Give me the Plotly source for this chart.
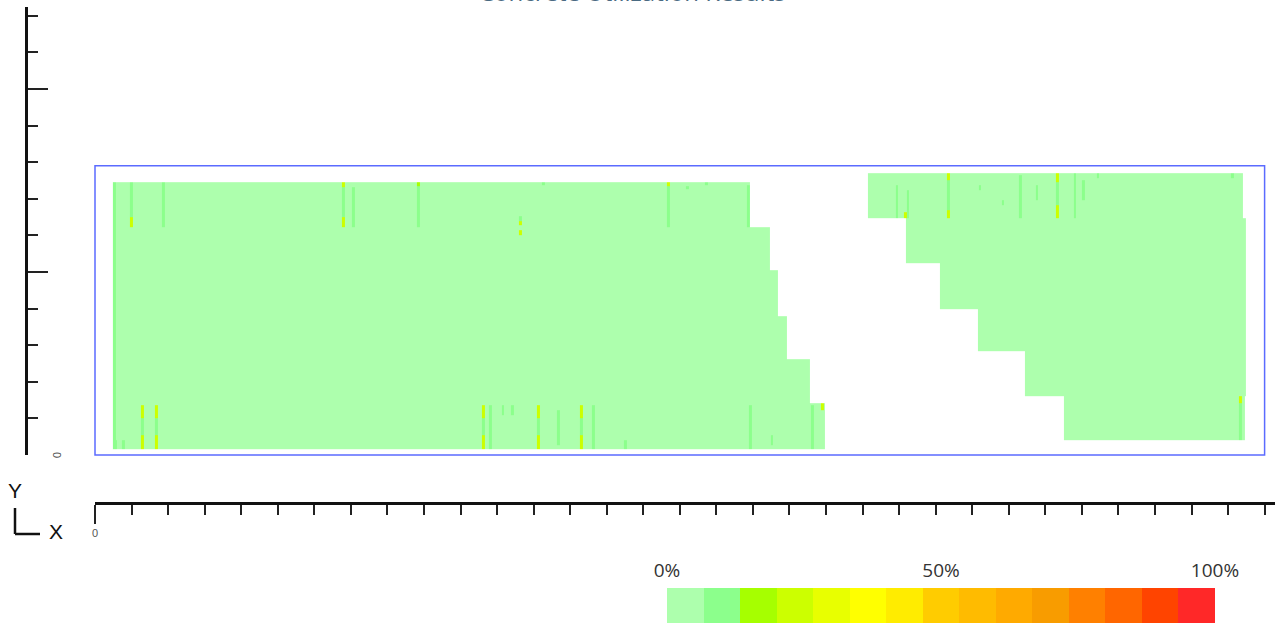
import numpy as np
import plotly.graph_objects as go

W, H = 1280, 625

# ---------------- data ----------------
# utilisation legend: 15 colour bands from 0 % to 100 %
LEVEL_COLORS = ['#adffad', '#8cff8c', '#a6ff00', '#ccff00', '#e8ff00',
                '#ffff00', '#ffec00', '#ffcc00', '#ffbb00', '#ffaa00',
                '#f89c00', '#ff8000', '#ff6600', '#ff4400', '#ff2828']
LEGEND_TICKS = [0, 50, 100]
LEGEND_LABELS = ['0%', '50%', '100%']

# left panel: row boundaries (bottom -> top) and x extent of every row
LEFT_ROW_Y = [0.16, 1.42, 2.62, 3.80, 5.05, 6.23, 7.46]
LEFT_X0 = [0.49, 0.49, 0.49, 0.49, 0.49, 0.49]
LEFT_X1 = [19.97, 19.56, 18.93, 18.69, 18.47, 17.92]

# right panel
RIGHT_ROW_Y = [0.41, 1.61, 2.84, 3.99, 5.25, 6.48, 7.70]
RIGHT_X0 = [26.51, 25.44, 24.16, 23.12, 22.19, 21.15]
RIGHT_X1 = [31.46, 31.49, 31.49, 31.49, 31.49, 31.41]

BASE_UTIL = 3.0  # % utilisation of the bulk of the panels

# local utilisation peaks: strip centre x, y from, y to, utilisation (%)
HOT_X = [0.53, 0.985, 0.985, 1.86, 6.79, 6.79, 6.79, 7.06, 8.86, 8.86,
         11.63, 11.63, 11.63, 12.26, 15.68, 15.68, 16.20, 16.74, 17.88,
         0.55, 0.77, 1.29, 1.29, 1.29, 1.67, 1.67, 1.67, 10.62, 10.62, 10.62,
         10.81, 11.16, 11.41, 12.12, 12.12, 12.12, 12.67, 13.32, 13.32, 13.32,
         13.63, 14.50, 17.92, 18.52, 19.64, 19.90,
         21.94, 22.16, 22.24, 23.34, 23.34, 23.34, 24.21, 24.84, 25.31, 25.77,
         26.32, 26.32, 26.32, 26.81, 27.03, 27.44, 31.11,
         31.33, 31.33]
HOT_Y0 = [0.16, 6.23, 6.23, 6.23, 6.23, 7.32, 6.23, 6.23, 6.23, 7.35,
          6.36, 6.28, 6.01, 7.38, 6.23, 7.35, 7.27, 7.38, 6.23,
          0.16, 0.16, 0.16, 1.01, 0.16, 0.16, 1.01, 0.16, 0.16, 1.01, 0.16,
          0.16, 1.09, 1.09, 0.16, 1.01, 0.16, 0.27, 0.16, 1.01, 0.16,
          0.16, 0.16, 0.16, 0.27, 0.16, 1.23,
          6.48, 6.48, 6.48, 6.48, 7.51, 6.48, 7.24, 6.83, 6.48, 6.97,
          6.48, 7.46, 6.48, 6.48, 6.97, 7.57, 7.57,
          0.41, 1.42]
HOT_Y1 = [7.46, 7.46, 6.50, 7.46, 7.46, 7.46, 6.50, 7.32, 7.35, 7.46,
          6.53, 6.39, 6.15, 7.46, 7.35, 7.46, 7.35, 7.46, 7.38,
          0.41, 0.41, 1.37, 1.37, 0.55, 1.37, 1.37, 0.55, 1.37, 1.37, 0.55,
          1.37, 1.37, 1.37, 1.37, 1.37, 0.55, 1.23, 1.37, 1.37, 0.55,
          1.37, 0.41, 1.37, 0.55, 1.37, 1.42,
          7.38, 6.64, 7.24, 7.70, 7.70, 6.69, 7.38, 6.97, 7.65, 7.38,
          7.70, 7.70, 6.83, 7.70, 7.51, 7.70, 7.70,
          1.42, 1.61]
HOT_V = [10, 10, 24, 10, 10, 24, 24, 10, 10, 17,
         10, 24, 24, 10, 10, 20, 10, 10, 10,
         10, 10, 10, 24, 24, 10, 20, 20, 10, 24, 24,
         10, 10, 10, 10, 24, 24, 10, 10, 24, 24,
         10, 10, 10, 10, 10, 24,
         10, 24, 10, 10, 24, 24, 10, 10, 10, 10,
         10, 24, 24, 10, 10, 10, 10,
         10, 24]

# outline of the view window (m)
FRAME_X = [0.0, 32.0]
FRAME_Y = [0.0, 7.9]

TITLE = 'Concrete Utilization Results'

# ---------------- layout constants ----------------
ORIGIN_PX = (95.0, 455.0)     # pixel of model origin
SX, SY = 36.55, 36.6          # pixels per metre
STRIP_W = 0.08


def px_x(p):
    return p / W


def px_y(p):
    return 1 - p / H


# ---------------- build the utilisation grid ----------------
blocks = []
for rows, x0s, x1s in ((LEFT_ROW_Y, LEFT_X0, LEFT_X1),
                       (RIGHT_ROW_Y, RIGHT_X0, RIGHT_X1)):
    for i in range(len(x0s)):
        blocks.append((x0s[i], x1s[i], rows[i], rows[i + 1]))

strips = [(x - STRIP_W / 2, x + STRIP_W / 2, y0, y1, v)
          for x, y0, y1, v in zip(HOT_X, HOT_Y0, HOT_Y1, HOT_V)]

xe = np.array(sorted(set([b[0] for b in blocks] + [b[1] for b in blocks] +
                         [s[0] for s in strips] + [s[1] for s in strips])))
ye = np.array(sorted(set([b[2] for b in blocks] + [b[3] for b in blocks] +
                         [s[2] for s in strips] + [s[3] for s in strips])))
xc = (xe[:-1] + xe[1:]) / 2
yc = (ye[:-1] + ye[1:]) / 2
XC, YC = np.meshgrid(xc, yc)
z = np.full(XC.shape, np.nan)
for x0, x1, y0, y1 in blocks:
    m = (XC > x0) & (XC < x1) & (YC > y0) & (YC < y1)
    z[m] = BASE_UTIL
for x0, x1, y0, y1, v in strips:
    m = (XC > x0) & (XC < x1) & (YC > y0) & (YC < y1) & ~np.isnan(z)
    z[m] = np.maximum(z[m], v)

n = len(LEVEL_COLORS)
colorscale = []
for i, c in enumerate(LEVEL_COLORS):
    colorscale.append([i / n, c])
    colorscale.append([(i + 1) / n, c])

fig = go.Figure()

# model view (full-page hidden axes keeping the metre scale)
fig.add_trace(go.Heatmap(
    x=xe, y=ye, z=z, colorscale=colorscale, zmin=0, zmax=100,
    showscale=False, hoverongaps=False, xaxis='x2', yaxis='y2'))

# ruler subplot (empty trace so that the axes are drawn)
fig.add_trace(go.Scatter(x=[None], y=[None], xaxis='x', yaxis='y',
                         showlegend=False, hoverinfo='skip'))

# legend bar
edges = np.linspace(0, 100, n + 1)
mids = (edges[:-1] + edges[1:]) / 2
fig.add_trace(go.Heatmap(
    x=edges, y=[0, 1], z=[mids], colorscale=colorscale, zmin=0, zmax=100,
    showscale=False, hoverinfo='skip', xaxis='x3', yaxis='y3'))

ox, oy = ORIGIN_PX
x_ruler_end = 1275.0
y_ruler_top = 7.0
x_major = list(range(0, 33, 5))
y_major = list(range(0, 13, 5))

fig.update_layout(
    template='none',
    width=W, height=H, autosize=False,
    margin=dict(l=0, r=0, t=0, b=0, pad=0),
    paper_bgcolor='white', plot_bgcolor='rgba(0,0,0,0)',
    showlegend=False,
    xaxis2=dict(domain=[0, 1], range=[-ox / SX, (W - ox) / SX], visible=False,
                anchor='y2', fixedrange=True, automargin=False),
    yaxis2=dict(domain=[0, 1], range=[-(H - oy) / SY, oy / SY], visible=False,
                anchor='x2', fixedrange=True, automargin=False),
    xaxis=dict(domain=[px_x(ox), px_x(x_ruler_end)],
               range=[0, (x_ruler_end - ox) / SX],
               anchor='free', position=px_y(503), side='bottom',
               showline=True, linecolor='#111', linewidth=2.5,
               showgrid=False, zeroline=False, automargin=False,
               tickmode='array', tickvals=x_major,
               ticktext=['0'] + [''] * (len(x_major) - 1),
               ticks='outside', ticklen=19, tickwidth=1.6, tickcolor='#222',
               tickfont=dict(family='Liberation Sans', size=11, color='#555'),
               minor=dict(ticks='outside', ticklen=10, tickwidth=1.6,
                          tickcolor='#222', tickmode='array',
                          tickvals=list(range(0, 33)), showgrid=False),
               fixedrange=True),
    yaxis=dict(domain=[px_y(oy), px_y(y_ruler_top)],
               range=[0, (oy - y_ruler_top) / SY],
               anchor='free', position=px_x(26), side='left',
               showline=True, linecolor='#111', linewidth=2.5,
               showgrid=False, zeroline=False, automargin=False,
               tickmode='array', tickvals=y_major, showticklabels=False,
               ticks='inside', ticklen=20, tickwidth=1.6, tickcolor='#222',
               minor=dict(ticks='inside', ticklen=10, tickwidth=1.6,
                          tickcolor='#222', tickmode='array',
                          tickvals=list(range(0, 13)), showgrid=False),
               fixedrange=True),
    xaxis3=dict(domain=[px_x(667), px_x(1215)], range=[0, 100], anchor='y3',
                side='top', showline=False, showgrid=False, zeroline=False,
                automargin=False, ticklabelstandoff=6,
                tickmode='array', tickvals=LEGEND_TICKS, ticktext=LEGEND_LABELS,
                ticks='', tickfont=dict(family='Open Sans', size=19, color='#333'),
                fixedrange=True),
    yaxis3=dict(domain=[px_y(623), px_y(588)], range=[0, 1], anchor='x3',
                visible=False, fixedrange=True, automargin=False),
)

# view frame
fig.add_shape(type='rect', xref='x2', yref='y2',
              x0=FRAME_X[0], x1=FRAME_X[1], y0=FRAME_Y[0], y1=FRAME_Y[1],
              line=dict(color='#5b6bff', width=1.5), fillcolor='rgba(0,0,0,0)')

# coordinate system icon
fig.add_shape(type='line', xref='paper', yref='paper',
              x0=px_x(15), x1=px_x(15), y0=px_y(508), y1=px_y(534),
              line=dict(color='#111', width=2.5))
fig.add_shape(type='line', xref='paper', yref='paper',
              x0=px_x(15), x1=px_x(40), y0=px_y(534), y1=px_y(534),
              line=dict(color='#111', width=2.5))
fig.add_annotation(text='Y', xref='paper', yref='paper', x=px_x(15), y=px_y(490),
                   xanchor='center', yanchor='middle', showarrow=False,
                   font=dict(family='Liberation Sans', size=21, color='#111'))
fig.add_annotation(text='X', xref='paper', yref='paper', x=px_x(56), y=px_y(531),
                   xanchor='center', yanchor='middle', showarrow=False,
                   font=dict(family='Liberation Sans', size=21, color='#111'))

# y ruler origin label
fig.add_annotation(text='0', xref='paper', yref='y', x=px_x(57), y=0,
                   xanchor='center', yanchor='middle',
                   showarrow=False, textangle=90,
                   font=dict(family='Liberation Sans', size=11, color='#555'))

# title (cut off at the top of the view)
fig.add_annotation(text=TITLE, xref='paper', yref='paper', x=px_x(632), y=px_y(10),
                   xanchor='center', yanchor='bottom', showarrow=False,
                   font=dict(family='Open Sans', size=24, color='#4a6a82'))

fig.write_html('out.html', config={'responsive': False, 'displayModeBar': False},
               post_script="document.body.style.margin='0';")
